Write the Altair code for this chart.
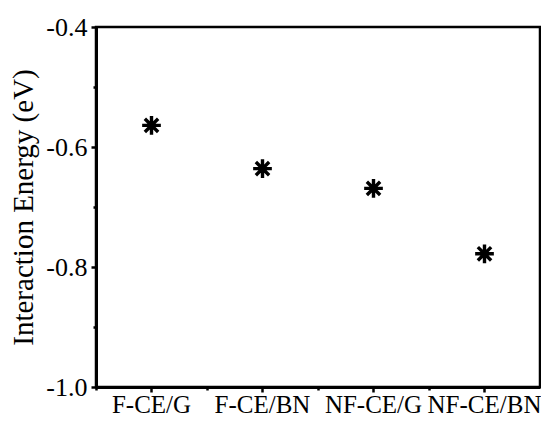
import altair as alt
import pandas as pd

categories = ["F-CE/G", "F-CE/BN", "NF-CE/G", "NF-CE/BN"]
energies = [-0.564, -0.636, -0.669, -0.778]
y_major = [-1.0, -0.8, -0.6, -0.4]
y_minor = [-0.9, -0.7, -0.5]

df = pd.DataFrame({"cat": categories, "e": energies})

star = "M0,-1L0,1M-1,0L1,0M-0.71,-0.71L0.71,0.71M-0.71,0.71L0.71,-0.71"
FONT = "Liberation Serif"

x_scale = alt.Scale(type="band", domain=categories, paddingInner=0, paddingOuter=0)
y_scale = alt.Scale(domain=[-1.0, -0.4], nice=False, zero=False)

points = alt.Chart(df).mark_point(
    shape=star, filled=False, stroke="black", strokeWidth=3.4, size=350, opacity=1
).encode(
    x=alt.X("cat:N", scale=x_scale, sort=categories,
            axis=alt.Axis(title=None, orient="bottom", labelAngle=0, tickSize=5,
                          tickWidth=2.5, domainWidth=3, labelPadding=0,
                          labelFontSize=25)),
    y=alt.Y("e:Q", scale=y_scale,
            axis=alt.Axis(title="Interaction Energy (eV)", orient="left", values=y_major,
                          labelExpr="replace(format(datum.value, '.1f'), '\u2212', '-')",
                          tickSize=5, tickWidth=2.5, domainWidth=3,
                          labelPadding=4, labelFontSize=26, titlePadding=7,
                          titleFontSize=29)),
)

minor = alt.Chart(df).mark_point(opacity=0).encode(
    x=alt.X("cat:N", scale=x_scale, sort=categories,
            axis=alt.Axis(title=None, orient="bottom", labels=False, domain=False,
                          bandPosition=0, tickSize=3, tickWidth=2.5)),
    y=alt.Y("e:Q", scale=y_scale,
            axis=alt.Axis(title=None, orient="left", values=y_minor, labels=False,
                          domain=False, tickSize=3, tickWidth=2.5)),
)

chart = alt.layer(points, minor).resolve_axis(x="independent", y="independent").properties(
    width=444, height=360, padding={"left": 88, "top": 19, "right": 1, "bottom": 30},
    autosize=alt.AutoSizeParams(type="none"),
).configure_view(stroke="black", strokeWidth=2.5).configure_axis(
    labelFont=FONT, titleFont=FONT, labelColor="black", titleColor="black",
    domainColor="black", tickColor="black", titleFontWeight="normal", grid=False,
)

chart.save("out.html", embed_options={"renderer": "svg", "actions": False})
